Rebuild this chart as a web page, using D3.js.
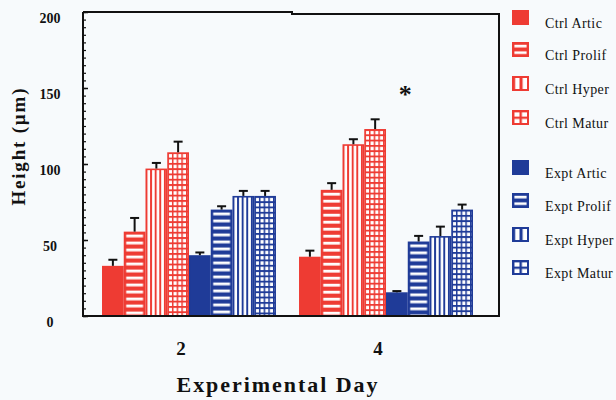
<!DOCTYPE html>
<html>
<head>
<meta charset="utf-8">
<script src="https://cdn.jsdelivr.net/npm/d3@7/dist/d3.min.js"></script>
<style>
  html, body { margin: 0; padding: 0; background: #f7fafc; }
  svg { display: block; }
  text { font-family: "Liberation Serif", "Times New Roman", serif; }
</style>
</head>
<body>
<svg id="chart" width="616" height="400"></svg>
<script>
// ---------- data ----------
const days = ["2", "4"];
const seriesNames = [
  "Ctrl Artic", "Ctrl Prolif", "Ctrl Hyper", "Ctrl Matur",
  "Expt Artic", "Expt Prolif", "Expt Hyper", "Expt Matur"
];
const seriesGroup = ["Ctrl", "Ctrl", "Ctrl", "Ctrl", "Expt", "Expt", "Expt", "Expt"];
const seriesPattern = ["solid", "h", "v", "grid", "solid", "h", "v", "grid"];
const day2Means = [33, 55.5, 97, 107.7, 40, 70, 79, 79];
const day2Errors = [4, 9, 3.7, 7, 1.8, 2.2, 3.3, 3.3];
const day4Means = [39, 83, 113, 123, 15.6, 49, 52.6, 70];
const day4Errors = [4, 4.4, 3.3, 6.4, 0.8, 3.7, 6.2, 3.3];
const yTicks = [0, 50, 100, 150, 200];
const significance = [{ day: "4", value: 148, label: "*" }];

// ---------- setup ----------
const colors = { Ctrl: "#ee3b33", Expt: "#1f3b98" };
const ink = "#111";
const svg = d3.select("#chart");
const defs = svg.append("defs");

const plot = { left: 83, right: 499, top: 12, bottom: 316 };

const y = d3.scaleLinear().domain([0, 200]).range([plot.bottom, plot.top]);
const x0 = d3.scaleBand().domain(days).range([102, 473]).paddingInner(0.117).paddingOuter(0);
const x1 = d3.scaleBand().domain(seriesNames).range([0, x0.bandwidth()]).padding(0);

const meansByDay = { "2": day2Means, "4": day4Means };
const errsByDay = { "2": day2Errors, "4": day4Errors };

const bars = [];
days.forEach(d => {
  seriesNames.forEach((s, i) => {
    bars.push({ day: d, series: s, idx: i, value: meansByDay[d][i], err: errsByDay[d][i] });
  });
});

// pattern maker
function makePattern(id, type, color, ox, oy, w, px, py) {
  const p = defs.append("pattern")
    .attr("id", id)
    .attr("patternUnits", "userSpaceOnUse")
    .attr("x", ox).attr("y", oy);
  if (type === "h") {
    p.attr("width", w).attr("height", py);
    p.append("rect").attr("width", w).attr("height", py).attr("fill", color);
    p.append("rect").attr("x", 2.4).attr("y", py * 0.42).attr("width", w - 4.8).attr("height", py * 0.4).attr("fill", "#fff");
  } else if (type === "v") {
    p.attr("width", px).attr("height", 50);
    p.append("rect").attr("width", px).attr("height", 50).attr("fill", color);
    p.append("rect").attr("x", px * 0.42).attr("y", 0).attr("width", px * 0.58).attr("height", 50).attr("fill", "#fff");
  } else if (type === "grid") {
    p.attr("width", px).attr("height", py);
    p.append("rect").attr("width", px).attr("height", py).attr("fill", color);
    p.append("rect").attr("x", px * 0.32).attr("y", py * 0.35).attr("width", px * 0.68).attr("height", py * 0.65).attr("fill", "#fff");
  }
  return "url(#" + id + ")";
}

// ---------- bars ----------
const bw = x1.bandwidth();
bars.forEach((b, k) => {
  const color = colors[seriesGroup[b.idx]];
  const type = seriesPattern[b.idx];
  const bx = x0(b.day) + x1(b.series);
  const by = y(b.value);
  let fill = color;
  if (type !== "solid") {
    fill = makePattern("pb" + k, type, color, bx, by, bw, type === "v" ? 4.6 : 4.7, type === "h" ? 7 : 5.3);
  }
  svg.append("rect")
    .attr("x", bx + 0.8).attr("y", by + 0.8)
    .attr("width", bw - 1.6).attr("height", plot.bottom - by - 0.8)
    .attr("fill", fill)
    .attr("stroke", color).attr("stroke-width", 1.6);
});

// error bars
const eg = svg.append("g").attr("stroke", ink).attr("stroke-width", 2);
bars.forEach(b => {
  const cx = x0(b.day) + x1(b.series) + bw / 2;
  eg.append("line").attr("x1", cx).attr("x2", cx).attr("y1", y(b.value)).attr("y2", y(b.value + b.err));
  eg.append("line").attr("x1", cx - 4.5).attr("x2", cx + 4.5).attr("y1", y(b.value + b.err)).attr("y2", y(b.value + b.err));
});

// ---------- frame ----------
const frame = svg.append("g").attr("stroke", ink).attr("stroke-width", 2).attr("fill", "none");
frame.append("path").attr("d",
  `M${plot.left},${plot.top}V${plot.bottom}H${plot.right}V${plot.top + 2}H292V${plot.top}H${plot.left}`);

// minor ticks
const minorAxis = d3.axisLeft(y).tickValues(d3.range(0, 201, 5)).tickSize(-3).tickFormat("");
const ma = svg.append("g").attr("transform", `translate(${plot.left},0)`).call(minorAxis);
ma.select(".domain").remove();
ma.selectAll("line").attr("stroke", ink).attr("stroke-width", 1.2);

// major ticks
const majorAxis = d3.axisLeft(y).tickValues(yTicks).tickSize(-5).tickFormat("");
const mj = svg.append("g").attr("transform", `translate(${plot.left},0)`).call(majorAxis);
mj.select(".domain").remove();
mj.selectAll("line").attr("stroke", ink).attr("stroke-width", 1.5);

// y tick labels
svg.append("g").selectAll("text").data(yTicks).join("text")
  .attr("x", 50).attr("y", d => y(d) + 11)
  .attr("text-anchor", "middle")
  .attr("font-size", 14).attr("font-weight", "bold").attr("fill", ink)
  .text(d => d);

// x tick labels
const xAxis = d3.axisBottom(x0).tickSize(0).tickPadding(0);
const xa = svg.append("g").attr("transform", `translate(-8,${plot.bottom})`).call(xAxis);
xa.select(".domain").remove();
xa.selectAll("text")
  .attr("y", 39).attr("dy", 0)
  .attr("font-family", "Liberation Serif, serif")
  .attr("font-size", 19).attr("font-weight", "bold").attr("fill", ink);

// axis titles
svg.append("text")
  .attr("x", 277).attr("y", 392)
  .attr("text-anchor", "middle")
  .attr("font-size", 22).attr("font-weight", "bold").attr("fill", ink)
  .attr("textLength", 201).attr("lengthAdjust", "spacing")
  .text("Experimental Day");

svg.append("text")
  .attr("transform", "translate(25,147) rotate(-90)")
  .attr("text-anchor", "middle")
  .attr("font-size", 19).attr("font-weight", "bold").attr("fill", ink)
  .attr("textLength", 117).attr("lengthAdjust", "spacing")
  .text("Height (µm)");

// significance marker
svg.selectAll(".sig").data(significance).join("text")
  .attr("class", "sig")
  .attr("x", d => x0(d.day) + x0.bandwidth() * 0.61)
  .attr("y", d => y(d.value) + 12)
  .attr("text-anchor", "middle")
  .attr("font-size", 26).attr("font-weight", "bold").attr("fill", ink)
  .text(d => d.label);

// ---------- legend ----------
const legendTops = [10, 42, 76, 110, 160, 193, 227, 260];
const lg = svg.append("g");
seriesNames.forEach((s, i) => {
  const color = colors[seriesGroup[i]];
  const type = seriesPattern[i];
  const lx = 512, ly = legendTops[i], lw = 17, lh = 15;
  let fill = color;
  if (type !== "solid") {
    fill = makePattern("pl" + i, type, color, lx, ly, lw, 7.5, 6.6);
  }
  lg.append("rect")
    .attr("x", lx + 1).attr("y", ly + 1).attr("width", lw - 2).attr("height", lh - 2)
    .attr("fill", fill).attr("stroke", color).attr("stroke-width", 2);
  lg.append("text")
    .attr("x", 545).attr("y", ly + 18)
    .attr("font-size", 14).attr("letter-spacing", 0.4).attr("fill", ink)
    .text(s);
});
</script>
</body>
</html>
